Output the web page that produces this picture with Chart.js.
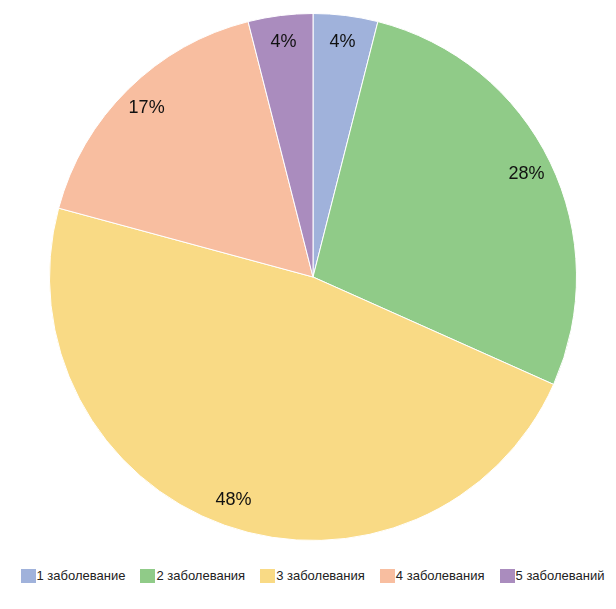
<!DOCTYPE html>
<html>
<head>
<meta charset="utf-8">
<script src="https://cdn.jsdelivr.net/npm/chart.js@4/dist/chart.umd.min.js"></script>
<style>
    body { margin: 0; background: #fff; }
    #wrap { position: relative; width: 616px; height: 609px; }
    #legend {
        position: absolute; left: 0; top: 568px; width: 616px;
        display: flex; justify-content: center; padding-left: 9px; box-sizing: border-box;
        font: 13px "Liberation Sans", Arial, sans-serif; color: #222;
    }
    #legend .item { display: flex; align-items: center; margin-right: 15px; line-height: 16px; }
    #legend .item:last-child { margin-right: 0; }
    #legend .box { width: 15px; height: 14px; margin-right: 1px; }
</style>
</head>
<body>
<div id="wrap">
    <canvas id="myChart" width="616" height="556"></canvas>
    <div id="legend"></div>
</div>
<script>
const labels = ['1 заболевание', '2 заболевания', '3 заболевания', '4 заболевания', '5 заболеваний'];
const counts = [4, 28, 48, 17, 4];
const colors = ['#A0B2DB', '#90CB88', '#F9DA85', '#F8BEA0', '#AA8CBE'];

// подписи процентов внутри секторов
const pctLabels = {
    id: 'pctLabels',
    afterDatasetsDraw(chart) {
        const ctx = chart.ctx;
        const meta = chart.getDatasetMeta(0);
        const total = counts.reduce((a, b) => a + b, 0);
        ctx.save();
        ctx.font = '18px "Liberation Sans", Arial, sans-serif';
        ctx.fillStyle = '#111';
        ctx.textAlign = 'center';
        ctx.textBaseline = 'middle';
        meta.data.forEach((arc, i) => {
            const mid = (arc.startAngle + arc.endAngle) / 2;
            const r = arc.outerRadius * 0.9;
            const pct = Math.round(counts[i] / total * 100) + '%';
            ctx.fillText(pct, arc.x + Math.cos(mid) * r, arc.y + Math.sin(mid) * r);
        });
        ctx.restore();
    }
};

function make_pie(cnv) {
    return new Chart(cnv, {
        type: 'pie',
        data: {
            labels: labels,
            datasets: [{
                data: counts,
                backgroundColor: colors,
                borderColor: '#fff',
                borderWidth: 1
            }]
        },
        options: {
            responsive: false,
            animation: false,
            layout: { padding: { top: 13, bottom: 15, left: 10, right: 0 } },
            plugins: {
                legend: { display: false },
                tooltip: { enabled: false }
            }
        },
        plugins: [pctLabels]
    });
}

make_pie(document.getElementById('myChart'));

// легенда снизу
const legend = document.getElementById('legend');
labels.forEach((name, i) => {
    const item = document.createElement('div');
    item.className = 'item';
    const box = document.createElement('span');
    box.className = 'box';
    box.style.background = colors[i];
    item.appendChild(box);
    item.appendChild(document.createTextNode(name));
    legend.appendChild(item);
});
</script>
</body>
</html>
